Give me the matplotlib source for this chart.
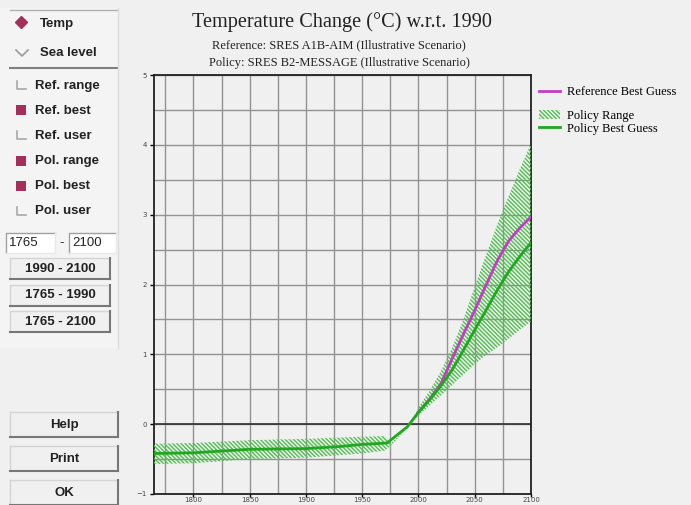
import matplotlib
matplotlib.use('Agg')
import matplotlib.pyplot as plt
from matplotlib.lines import Line2D
from matplotlib.patches import Rectangle, Patch

# Policy best guess (SRES B2-MESSAGE), deg C w.r.t. 1990
pol_years = [1765, 1800, 1850, 1900, 1930, 1950, 1972, 1990, 2000, 2010,
             2020, 2030, 2040, 2050, 2060, 2070, 2080, 2090, 2100]
pol_best = [-0.42, -0.41, -0.36, -0.35, -0.32, -0.29, -0.27, -0.04, 0.17, 0.35,
            0.55, 0.78, 1.06, 1.35, 1.63, 1.92, 2.18, 2.40, 2.60]

# Reference best guess (SRES A1B-AIM)
ref_years = [2000, 2010, 2020, 2030, 2040, 2050, 2060, 2070, 2080, 2090, 2100]
ref_best = [0.17, 0.36, 0.58, 0.94, 1.29, 1.63, 1.99, 2.34, 2.62, 2.81, 2.97]

# Policy range
range_years = [1765, 1800, 1850, 1900, 1950, 1970, 1976, 1992, 2000, 2010,
               2020, 2030, 2040, 2050, 2060, 2070, 2080, 2090, 2100]
range_upper = [-0.28, -0.27, -0.23, -0.21, -0.18, -0.17, -0.27, -0.02, 0.24, 0.48,
               0.76, 1.10, 1.50, 1.97, 2.42, 2.86, 3.26, 3.65, 4.02]
range_lower = [-0.57, -0.56, -0.50, -0.48, -0.42, -0.38, -0.30, -0.02, 0.12, 0.27,
               0.41, 0.56, 0.71, 0.86, 0.99, 1.10, 1.22, 1.35, 1.47]

x_ticks = [1800, 1850, 1900, 1950, 2000, 2050, 2100]
x_minor = [1775, 1825, 1875, 1925, 1975, 2025, 2075]
y_ticks = [-1, 0, 1, 2, 3, 4, 5]
y_minor = [-0.5, 0.5, 1.5, 2.5, 3.5, 4.5]

check_labels = ['Ref. range', 'Ref. best', 'Ref. user', 'Pol. range', 'Pol. best', 'Pol. user']
check_states = [False, True, False, True, True, False]
range_buttons = ['1990 - 2100', '1765 - 1990', '1765 - 2100']
action_buttons = ['Help', 'Print', 'OK']

BG = '#f0f0f0'
MAROON = '#a3305a'
GREEN = '#1fa81f'
MAGENTA = '#c33cc3'
HATCH = '#4fbf4f'
HATCH_PAT = '\\' * 8

plt.rcParams['hatch.linewidth'] = 1.0

fig = plt.figure(figsize=(6.91, 5.05), dpi=100, facecolor=BG)

# pixel-coordinate canvas for the control panel and texts
panel = fig.add_axes([0, 0, 1, 1], zorder=0)
panel.set_xlim(0, 691)
panel.set_ylim(505, 0)
panel.axis('off')

sans = 'Liberation Sans'
serif = 'Liberation Serif'


def button(x0, y0, x1, y1, label):
    panel.add_patch(Rectangle((x0, y0), x1 - x0, y1 - y0, facecolor=BG, edgecolor='none'))
    panel.plot([x0, x1], [y0, y0], color='#d4d4d4', lw=1)
    panel.plot([x0, x0], [y0, y1], color='#d4d4d4', lw=1)
    panel.plot([x0, x1], [y1, y1], color='#777777', lw=1.5)
    panel.plot([x1, x1], [y0, y1], color='#777777', lw=1.5)
    panel.text((x0 + x1) / 2, (y0 + y1) / 2 + 0.5, label, ha='center', va='center',
               fontsize=9.5, fontweight='bold', family=sans, color='#222222')


# panel background and separators
panel.add_patch(Rectangle((0, 8), 118, 340, facecolor='#f4f4f4', edgecolor='none'))
panel.plot([10, 118], [10, 10], color='#b0b0b0', lw=1)
panel.plot([10, 118], [68, 68], color='#808080', lw=1.5)
panel.plot([118, 118], [8, 348], color='#dcdcdc', lw=1)

panel.plot([21], [22], marker='D', ms=6, color=MAROON)
panel.text(40, 23.5, 'Temp', va='center', fontsize=9.5, fontweight='bold', family=sans, color='#222222')
panel.plot([16, 22, 28], [50, 56, 50], color='#9a9a9a', lw=1.2)
panel.text(40, 52.5, 'Sea level', va='center', fontsize=9.5, fontweight='bold', family=sans, color='#222222')

for i, (lab, on) in enumerate(zip(check_labels, check_states)):
    yc = 85 + i * 25.2
    if on:
        panel.add_patch(Rectangle((16, yc - 5), 10, 10, facecolor=MAROON, edgecolor='none'))
    else:
        panel.add_patch(Rectangle((16, yc - 5), 10, 10, facecolor='#f4f4f4', edgecolor='none'))
        panel.plot([17, 17, 26], [yc - 4, yc + 4, yc + 4], color='#a8a8a8', lw=1.2)
    panel.text(35, yc + 0.5, lab, va='center', fontsize=9.5, fontweight='bold', family=sans, color='#222222')

# year entry boxes
for x0, x1, txt in [(6, 55, '1765'), (69, 116, '2100')]:
    panel.add_patch(Rectangle((x0, 233), x1 - x0, 20, facecolor='white', edgecolor='none'))
    panel.plot([x0, x0, x1], [253, 233, 233], color='#a0a0a0', lw=1)
    panel.plot([x1, x1, x0], [233, 253, 253], color='#e8e8e8', lw=1)
    panel.text(x0 + 3, 243.5, txt, va='center', fontsize=9.5, family=sans, color='#222222')
panel.text(62, 243.5, '-', ha='center', va='center', fontsize=9.5, family=sans, color='#222222')

for i, lab in enumerate(range_buttons):
    button(10, 258 + i * 26.5, 110, 279 + i * 26.5, lab)
for i, lab in enumerate(action_buttons):
    button(10, 412 + i * 34, 118, 437 + i * 34, lab)

# titles
panel.text(342, 22, 'Temperature Change (\u00b0C) w.r.t. 1990', ha='center', va='center',
           fontsize=14.6, family=serif, color='#222222')
panel.text(339, 45, 'Reference: SRES A1B-AIM (Illustrative Scenario)', ha='center', va='center',
           fontsize=9, family=serif, color='#222222')
panel.text(339, 63, 'Policy: SRES B2-MESSAGE (Illustrative Scenario)', ha='center', va='center',
           fontsize=9, family=serif, color='#222222')

# main chart
ax = fig.add_axes([154 / 691, 1 - 494 / 505, 377 / 691, 419 / 505], zorder=2)
ax.set_facecolor(BG)

ax.fill_between(range_years, range_lower, range_upper, facecolor='none',
                edgecolor=HATCH, hatch=HATCH_PAT, linewidth=0, zorder=3)
ax.plot(ref_years, ref_best, color=MAGENTA, lw=2, zorder=4)
ax.plot(pol_years, pol_best, color=GREEN, lw=2, zorder=5)
ax.axhline(0, color='#303030', lw=1.2, zorder=2)

ax.set_xlim(1765, 2100)
ax.set_ylim(-1, 5)
ax.set_xticks(x_ticks)
ax.set_xticks(x_minor, minor=True)
ax.set_yticks(y_ticks)
ax.set_yticks(y_minor, minor=True)
ax.grid(True, which='both', color='#939393', lw=1, zorder=1)
ax.set_axisbelow(True)
ax.tick_params(which='major', length=3, width=1, labelsize=5, labelcolor='#444444', pad=2)
ax.tick_params(axis='x', which='major', length=2, pad=0.5)
ax.tick_params(which='minor', length=0)
for s in ax.spines.values():
    s.set_color('#202020')
    s.set_linewidth(1.3)

# legend
leg1 = panel.legend([Line2D([], [], color=MAGENTA, lw=2)], ['Reference Best Guess'],
                    loc='upper left', bbox_to_anchor=(539, 86), bbox_transform=panel.transData,
                    frameon=False, borderpad=0, borderaxespad=0, handlelength=1.7,
                    handletextpad=0.55, prop={'family': serif, 'size': 9})
panel.add_artist(leg1)
panel.legend([Patch(facecolor='none', edgecolor=HATCH, hatch=HATCH_PAT, lw=0),
              Line2D([], [], color=GREEN, lw=2)],
             ['Policy Range', 'Policy Best Guess'],
             loc='upper left', bbox_to_anchor=(539, 110), bbox_transform=panel.transData,
             frameon=False, borderpad=0, borderaxespad=0, handlelength=1.7,
             handletextpad=0.55, labelspacing=0.05, prop={'family': serif, 'size': 9})

fig.savefig('out.png', dpi=100, facecolor=BG)
